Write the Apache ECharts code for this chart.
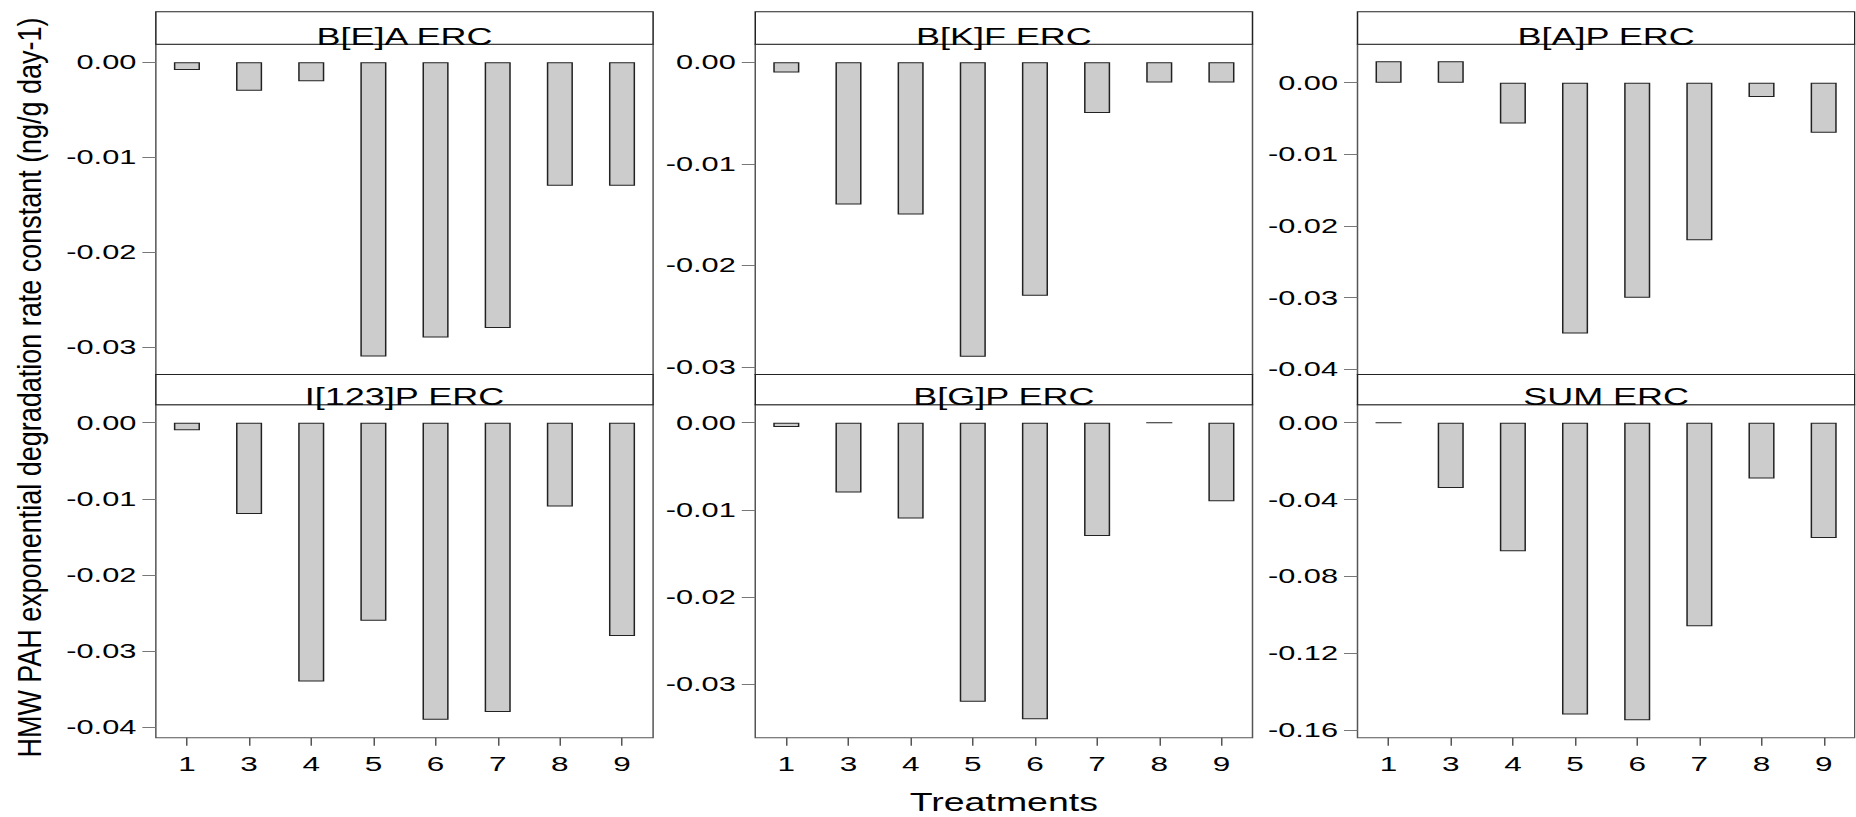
<!DOCTYPE html>
<html>
<head>
<meta charset="utf-8">
<script src="https://cdn.jsdelivr.net/npm/echarts@6/dist/echarts.min.js"></script>
<style>
html,body{margin:0;padding:0;background:#fff;overflow:hidden;}
#chart{width:1237.33px;height:817px;transform:scaleX(1.5);transform-origin:0 0;}
</style>
</head>
<body>
<div id="chart"></div>
<script>
// ---- data ----
const categories = ['1', '3', '4', '5', '6', '7', '8', '9'];
const panelTitles = ['B[E]A ERC', 'B[K]F ERC', 'B[A]P ERC', 'I[123]P ERC', 'B[G]P ERC', 'SUM ERC'];
const beaERC  = [-0.0008, -0.003, -0.002, -0.031, -0.029, -0.028, -0.013, -0.013];
const bkfERC  = [-0.001, -0.014, -0.015, -0.029, -0.023, -0.005, -0.002, -0.002];
const bapERC  = [0.003, 0.003, -0.0057, -0.035, -0.030, -0.022, -0.002, -0.007];
const i123pERC = [-0.001, -0.012, -0.034, -0.026, -0.039, -0.038, -0.011, -0.028];
const bgpERC  = [-0.0005, -0.008, -0.011, -0.032, -0.034, -0.013, 0, -0.009];
const sumERC  = [0, -0.034, -0.067, -0.152, -0.155, -0.106, -0.029, -0.060];
const ticksA = [0, -0.01, -0.02, -0.03];
const ticksB = [0, -0.01, -0.02, -0.03, -0.04];
const ticksSum = [0, -0.04, -0.08, -0.12, -0.16];
const yAxisTitle = 'HMW PAH exponential degradation rate constant (ng/g day-1)';
const xAxisTitle = 'Treatments';

const panelData = [beaERC, bkfERC, bapERC, i123pERC, bgpERC, sumERC];
const panelTicks = [ticksA, ticksA, ticksB, ticksB, ticksA, ticksSum];
const panelMax = [0.0019, 0.00177, 0.00536, 0.00236, 0.00206, 0.0094];
const panelMin = [-0.0329, -0.03076, -0.04073, -0.04137, -0.03612, -0.1641];

// ---- layout (unstretched frame) ----
const colLeft = [103.9, 503.5, 905];
const colW = 331.5;
const rows = [
  {stripTop: 11.7, top: 44.3, bottom: 374.5},
  {stripTop: 374.5, top: 404.7, bottom: 737.7}
];
const FONT = '"Liberation Sans", Arial, Helvetica, sans-serif';

const grids = [], xAxes = [], yAxes = [], series = [], graphics = [];
for (let i = 0; i < 6; i++) {
  const r = rows[Math.floor(i / 3)], c = i % 3, bottomRow = i >= 3;
  grids.push({
    left: colLeft[c], top: r.top, width: colW, height: r.bottom - r.top,
    show: true, borderColor: '#555', borderWidth: 1, backgroundColor: 'transparent',
    containLabel: false
  });
  xAxes.push({
    type: 'category', gridIndex: i, data: categories, boundaryGap: true, position: 'bottom',
    axisLine: {show: false, onZero: false},
    axisTick: {show: bottomRow, alignWithLabel: true, length: 8, lineStyle: {color: '#555'}},
    axisLabel: {show: bottomRow, margin: 16, fontSize: 21, color: '#000', fontFamily: FONT},
    splitLine: {show: false},
    name: (i === 4) ? xAxisTitle : '',
    nameLocation: 'middle', nameGap: 52,
    nameTextStyle: {fontSize: 25, color: '#000', fontFamily: FONT}
  });
  yAxes.push({
    type: 'value', gridIndex: i, min: panelMin[i], max: panelMax[i],
    axisLine: {show: false, onZero: false},
    axisTick: {show: true, length: 9, lineStyle: {color: '#777'}, customValues: panelTicks[i]},
    axisLabel: {show: true, margin: 13, fontSize: 20.5, color: '#000', fontFamily: FONT,
      customValues: panelTicks[i], formatter: v => v.toFixed(2)},
    splitLine: {show: false}
  });
  series.push({
    type: 'bar', xAxisIndex: i, yAxisIndex: i, data: panelData[i],
    barWidth: '42%', silent: true, animation: false,
    itemStyle: {color: '#cccccc', borderColor: '#222', borderWidth: 1}
  });
  // strip
  graphics.push({
    type: 'rect', silent: true, z: 10,
    shape: {x: colLeft[c], y: r.stripTop, width: colW, height: r.top - r.stripTop},
    style: {fill: '#fff', stroke: '#222', lineWidth: 1}
  });
  graphics.push({
    type: 'text', silent: true, z: 11,
    x: colLeft[c] + colW / 2, y: r.top - 8,
    style: {text: panelTitles[i], fontSize: 24, fontFamily: FONT, fill: '#000',
      align: 'center', verticalAlign: 'middle'}
  });
}
graphics.push({
  type: 'text', silent: true, z: 11,
  x: 19.3, y: 387.5, rotation: Math.PI / 2, scaleX: 1.21, scaleY: 1,
  style: {text: yAxisTitle, fontSize: 22.3, fontFamily: FONT, fill: '#000',
    align: 'center', verticalAlign: 'middle'}
});

const chart = echarts.init(document.getElementById('chart'), null, {renderer: 'svg'});
chart.setOption({
  backgroundColor: '#fff',
  animation: false,
  grid: grids,
  xAxis: xAxes,
  yAxis: yAxes,
  series: series,
  graphic: graphics
});
</script>
</body>
</html>
